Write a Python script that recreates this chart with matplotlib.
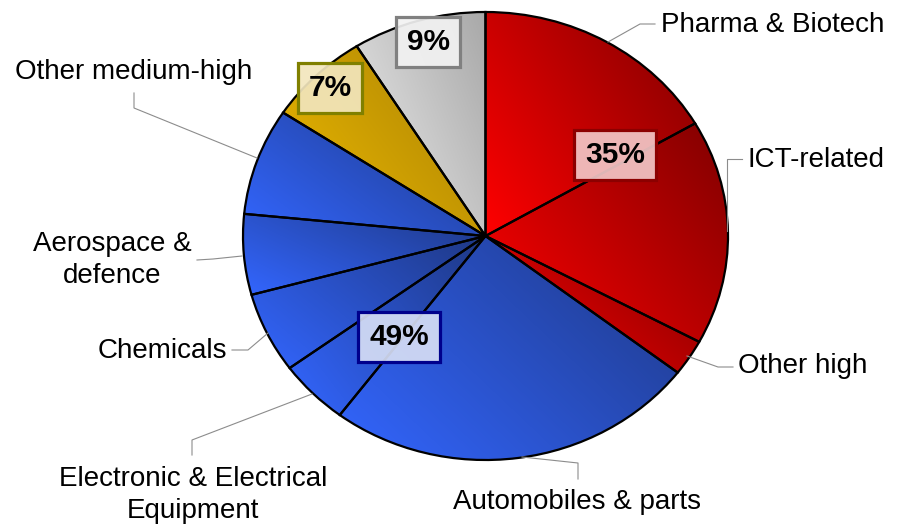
import numpy as np
import matplotlib.pyplot as plt

plt.rcParams['font.family'] = ['Liberation Sans', 'DejaVu Sans']

W, H = 897, 526

# ------------------------------
# data (share of R&D by sector, %)
# ------------------------------
sectors = ["Pharma & Biotech", "ICT-related", "Other high",
           "Automobiles & parts", "Electronic & Electrical\nEquipment",
           "Chemicals", "Aerospace &\ndefence", "Other medium-high",
           "Medium-low", "Low"]
shares = [16.6, 16.2, 2.6, 24.8, 4.7, 5.8, 5.8, 7.7, 6.8, 8.9]
groups = ["high", "high", "high", "medhigh", "medhigh", "medhigh",
          "medhigh", "medhigh", "medlow", "low"]
show_name = [True] * 8 + [False] * 2

group_names = ["high", "medhigh", "medlow", "low"]
group_pct = ["35%", "49%", "7%", "9%"]

# gradient colours (light, dark) per group
grad = {
    "high": ((1.00, 0.00, 0.00), (0.50, 0.00, 0.00)),
    "medhigh": ((0.20, 0.40, 1.00), (0.12, 0.22, 0.52)),
    "medlow": ((0.93, 0.73, 0.00), (0.66, 0.50, 0.02)),
    "low": ((0.93, 0.93, 0.93), (0.66, 0.66, 0.66)),
}
box_style = {
    "high": ((0.95, 0.78, 0.78, 0.92), (0.55, 0.0, 0.0)),
    "medhigh": ((0.84, 0.87, 0.96, 0.92), (0.0, 0.0, 0.55)),
    "medlow": ((0.95, 0.90, 0.74, 0.92), (0.5, 0.5, 0.0)),
    "low": ((0.95, 0.95, 0.95, 0.92), (0.5, 0.5, 0.5)),
}


def fx(x):
    return x / W


def fy(y):
    return 1 - y / H


fig = plt.figure(figsize=(W / 100, H / 100), dpi=100)
ax = fig.add_axes([fx(243), fy(460), 485 / W, 448 / H])

wedges, _ = ax.pie(shares, startangle=90, counterclock=False, radius=1,
                   wedgeprops=dict(facecolor='none', edgecolor='black',
                                   linewidth=1.6, zorder=3))
ax.set_aspect('auto')
ax.axis('off')

# gradient fill, clipped to each wedge
ang = np.radians(35)
uu, vv = np.meshgrid(np.linspace(0, 1, 120), np.linspace(0, 1, 120))
tt = (uu * np.cos(ang) + vv * np.sin(ang)) / (np.cos(ang) + np.sin(ang))
for w, g in zip(wedges, groups):
    th = np.radians(np.linspace(w.theta1, w.theta2, 60))
    xs = np.concatenate([[0], np.cos(th)])
    ys = np.concatenate([[0], np.sin(th)])
    light, dark = np.array(grad[g][0]), np.array(grad[g][1])
    img = light[None, None, :] * (1 - tt[..., None]) + dark[None, None, :] * tt[..., None]
    im = ax.imshow(img, origin='lower', aspect='auto', zorder=2,
                   extent=(xs.min(), xs.max(), ys.min(), ys.max()),
                   interpolation='bilinear')
    im.set_clip_path(w)
ax.set_xlim(-1, 1)
ax.set_ylim(-1, 1)

# sector labels: (x, baseline of last line, ha) in pixels
name_pos = [(661, 32, 'left'), (747, 167, 'left'), (738, 373, 'left'),
            (577, 509, 'center'), (193, 518, 'center'), (227, 358, 'right'),
            (112, 283, 'center'), (134, 79, 'center'), None, None]
leaders = [[(608, 42), (640, 24), (655, 24)],
           [(727, 231), (727, 159), (742, 159)],
           [(687, 356), (718, 367), (733, 367)],
           [(522, 457), (578, 463), (578, 479)],
           [(312, 394), (192, 440), (192, 455)],
           [(268, 333), (248, 350), (232, 350)],
           [(242, 256), (213, 259), (197, 260)],
           [(257, 158), (134, 108), (134, 93)],
           None, None]

for name, show, pos, ld in zip(sectors, show_name, name_pos, leaders):
    if not show:
        continue
    fig.text(fx(pos[0]), fy(pos[1]), name, ha=pos[2], va='baseline',
             fontsize=20, linespacing=1.28, color='black')
    px = [fx(p[0]) for p in ld]
    py = [fy(p[1]) for p in ld]
    fig.add_artist(plt.Line2D(px, py, color='#8c8c8c', linewidth=0.8))

# group percentages
pct_pos = [(615, 155), (399, 337), (330, 88), (428, 42)]
for g, txt, pos in zip(group_names, group_pct, pct_pos):
    fc, ec = box_style[g]
    fig.text(fx(pos[0]), fy(pos[1]), txt, ha='center', va='center',
             fontsize=21.5, fontweight='bold', color='black', zorder=5,
             bbox=dict(boxstyle='square,pad=0.36', facecolor=fc,
                       edgecolor=ec, linewidth=2.3))

fig.savefig('out.png', dpi=100)
